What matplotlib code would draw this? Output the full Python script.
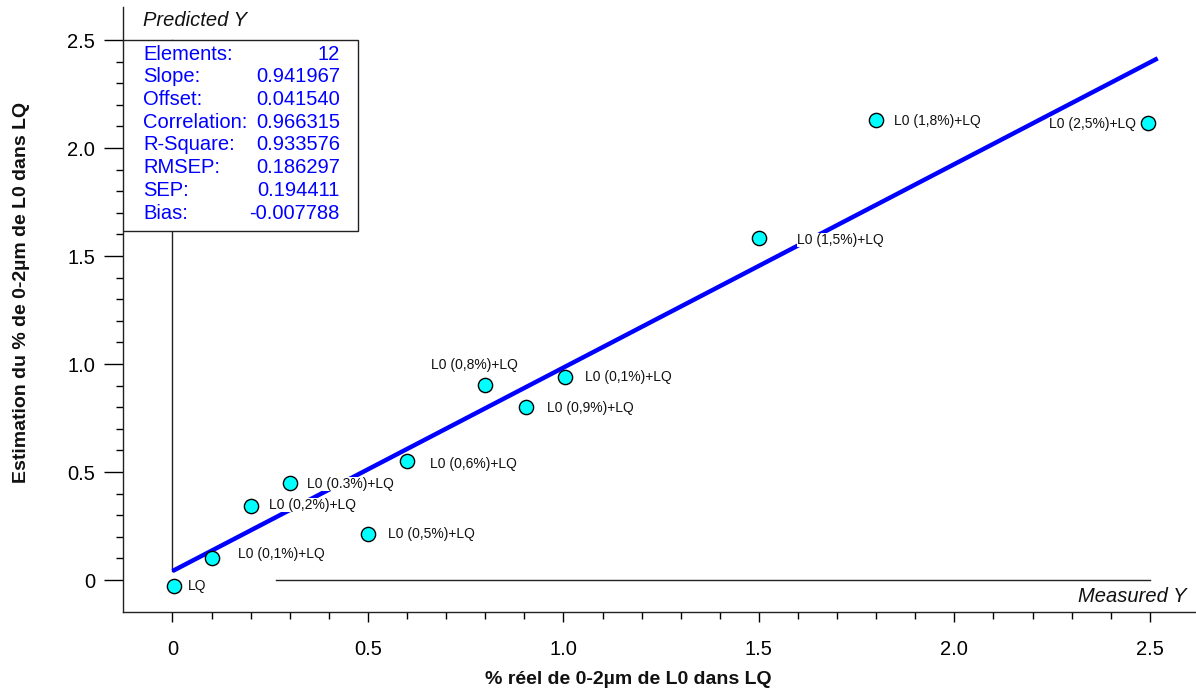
import matplotlib
matplotlib.use("Agg")
import matplotlib.pyplot as plt
import numpy as np

plt.rcParams['font.family'] = ['Liberation Sans', 'DejaVu Sans']

# ---- data ----
measured = [0.005, 0.10, 0.20, 0.30, 0.50, 0.60, 0.80, 0.905, 1.005, 1.50, 1.80, 2.495]
predicted = [-0.028, 0.10, 0.345, 0.45, 0.215, 0.55, 0.905, 0.80, 0.94, 1.585, 2.13, 2.115]
point_labels = ["LQ", "L0 (0,1%)+LQ", "L0 (0,2%)+LQ", "L0 (0.3%)+LQ", "L0 (0,5%)+LQ",
                "L0 (0,6%)+LQ", "L0 (0,8%)+LQ", "L0 (0,9%)+LQ", "L0 (0,1%)+LQ",
                "L0 (1,5%)+LQ", "L0 (1,8%)+LQ", "L0 (2,5%)+LQ"]
stat_names = ["Elements:", "Slope:", "Offset:", "Correlation:", "R-Square:", "RMSEP:", "SEP:", "Bias:"]
stat_values = ["12", "0.941967", "0.041540", "0.966315", "0.933576", "0.186297", "0.194411", "-0.007788"]
slope = 0.941967
offset = 0.041540
x_ticks = [0, 0.5, 1.0, 1.5, 2.0, 2.5]
x_ticklabels = ["0", "0.5", "1.0", "1.5", "2.0", "2.5"]
y_ticks = [0, 0.5, 1.0, 1.5, 2.0, 2.5]
y_ticklabels = ["0", "0.5", "1.0", "1.5", "2.0", "2.5"]

# label offsets in pixels (dx, dy, ha)
label_offsets = [(13, 0, 'left'), (26, 4, 'left'), (18, 1, 'left'), (17, -1, 'left'),
                 (20, 0, 'left'), (23, -3, 'left'), (-11, 20, 'center'), (21, -1, 'left'),
                 (20, 0, 'left'), (38, -2, 'left'), (18, -1, 'left'), (-12, -1, 'right')]

W, H = 1196, 695
fig = plt.figure(figsize=(W / 100, H / 100), dpi=100)
ax = fig.add_axes([123 / W, (H - 612) / H, (1196 - 123) / W, (612 - 7) / H])

ax.set_xlim(-0.1266, 2.618)
ax.set_ylim(-0.148, 2.653)

for s in ['top', 'right']:
    ax.spines[s].set_visible(False)
for s in ['left', 'bottom']:
    ax.spines[s].set_linewidth(1.0)
    ax.spines[s].set_color('#222222')

ax.set_xticks(x_ticks)
ax.set_xticklabels(x_ticklabels)
ax.set_yticks(y_ticks)
ax.set_yticklabels(y_ticklabels)
ax.set_xticks(np.arange(0, 2.51, 0.1), minor=True)
ax.set_yticks(np.arange(0, 2.51, 0.1), minor=True)
ax.tick_params(axis='x', which='major', direction='out', length=7, width=1, labelsize=14.5, pad=13)
ax.tick_params(axis='x', which='minor', direction='out', length=5, width=1)
ax.tick_params(axis='y', which='major', direction='out', length=14, width=1, labelsize=14.5, pad=6)
ax.tick_params(axis='y', which='minor', direction='out', length=5, width=1)

# inner axis lines
ax.plot([0, 0], [0.04, 2.5], color='#222222', lw=1.0, zorder=1)
ax.plot([0.265, 2.5], [0, 0], color='#222222', lw=1.0, zorder=1)

# regression line
xl = np.array([0.0, 2.52])
ax.plot(xl, offset + slope * xl, color='#0000FF', lw=3.2, zorder=2, solid_capstyle='butt')

# points
ax.scatter(measured, predicted, s=105, facecolor='#00FFFF', edgecolor='black',
           linewidth=1.0, zorder=5)

for xv, yv, lab, (dx, dy, ha) in zip(measured, predicted, point_labels, label_offsets):
    ax.annotate(lab, (xv, yv), xytext=(dx * 0.72, dy * 0.72), textcoords='offset points',
                ha=ha, va='center', fontsize=10, color='#111111', zorder=4,
                bbox=dict(boxstyle='square,pad=0', fc='white', ec='none'))

# stats box
box = plt.Rectangle((0, 0.630), 0.219, 0.315, transform=ax.transAxes,
                    fc='white', ec='#222222', lw=1.0, zorder=6)
ax.add_patch(box)
ax.text(0.0186, 0.978, "Predicted Y", transform=ax.transAxes, fontsize=14.5,
        style='italic', va='center', ha='left', color='#111111', zorder=7)
for i, (n, v) in enumerate(zip(stat_names, stat_values)):
    yy = 0.922 - i * 0.0375
    ax.text(0.0186, yy, n, transform=ax.transAxes, fontsize=14.5, color='#0000FF',
            va='center', ha='left', zorder=7)
    ax.text(0.2022, yy, v, transform=ax.transAxes, fontsize=14.5, color='#0000FF',
            va='center', ha='right', zorder=7)

ax.text(0.9916, 0.025, "Measured Y", transform=ax.transAxes, fontsize=14.5,
        style='italic', va='center', ha='right', color='#111111')

fig.text(628 / W, 1 - 680 / H, "% réel de 0-2µm de L0 dans LQ", ha='center', va='center',
         fontsize=14, fontweight='bold', color='#111111')
fig.text(22 / W, 1 - 292 / H, "Estimation du % de 0-2µm de L0 dans LQ", ha='center',
         va='center', rotation=90, fontsize=14, fontweight='bold', color='#111111')

fig.savefig("out.png", dpi=100)
